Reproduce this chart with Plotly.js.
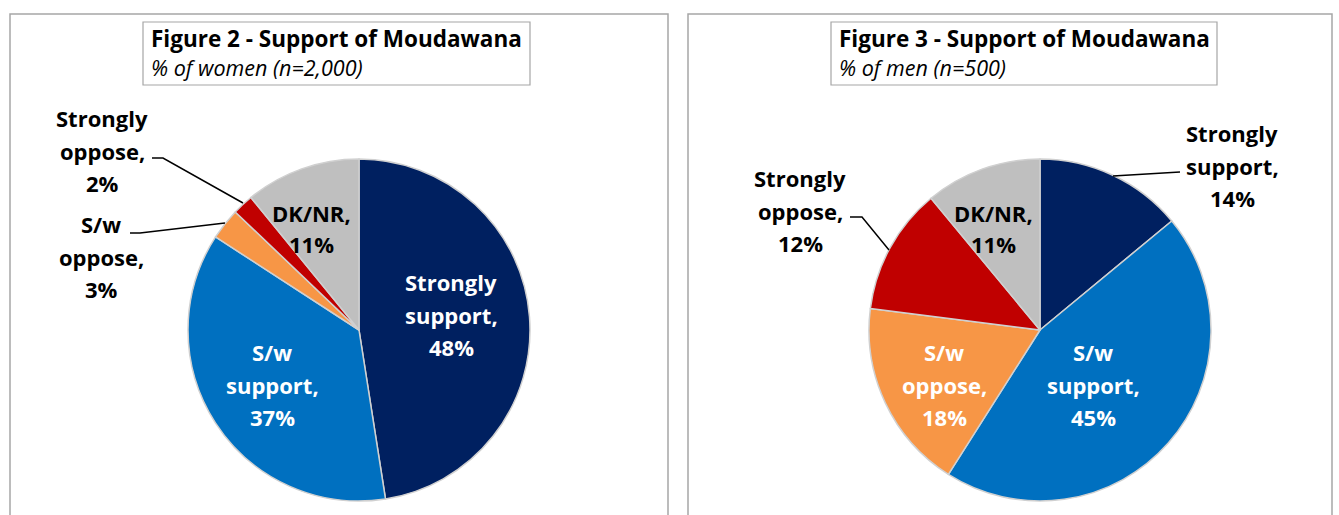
<!DOCTYPE html>
<html>
<head>
<meta charset="utf-8">
<script src="https://cdn.plot.ly/plotly-3.0.1.min.js"></script>
<style>html,body{margin:0;padding:0;background:#fff;}#chart{width:1339px;height:515px;}</style>
</head>
<body>
<div id="chart"></div>
<script>
// ---- data ----
const categories = ["Strongly support", "S/w support", "S/w oppose", "Strongly oppose", "DK/NR"];
const womenValues = [48, 37, 3, 2, 11];
const menValues = [14, 45, 18, 12, 11];
const sliceColors = ["#002060", "#0070C0", "#F79646", "#C00000", "#BFBFBF"];
const titles = ["Figure 2 - Support of Moudawana", "Figure 3 - Support of Moudawana"];
const subtitles = ["% of women (n=2,000)", "% of men (n=500)"];

// ---- layout helpers ----
const W = 1339, H = 515;
const px = x => x / W;
const py = y => 1 - y / H;
const FONT = "'Open Sans', Lato, sans-serif";

function pieTrace(values, cx, cy, r, name) {
  return {
    type: "pie",
    name: name,
    labels: categories,
    values: values,
    sort: false,
    direction: "clockwise",
    rotation: 0,
    textinfo: "none",
    textposition: "none",
    hoverinfo: "label+percent",
    marker: { colors: sliceColors, line: { color: "#D0D0D0", width: 1.5 } },
    domain: { x: [px(cx - r), px(cx + r)], y: [py(cy + r), py(cy - r)] },
    showlegend: false
  };
}

const traces = [
  pieTrace(womenValues, 359, 330, 171, "Women"),
  pieTrace(menValues, 1040, 330, 171, "Men")
];

const annotations = [];
const shapes = [];

// label lines derived from data
function labelLines(cat, val) {
  const words = cat.split(" ");
  words[words.length - 1] += ",";
  return words.concat([val + "%"]);
}
function addLabel(chart, idx, x, yTop, color) {
  const vals = chart === 0 ? womenValues : menValues;
  const lines = labelLines(categories[idx], vals[idx]);
  const step = lines.length === 2 ? 31 : 32.5;
  lines.forEach((t, i) => {
    annotations.push({
      xref: "paper", yref: "paper", x: px(x), y: py(yTop + i * step),
      xanchor: "center", yanchor: "middle", showarrow: false,
      text: "<b>" + t + "</b>",
      font: { family: FONT, size: 22, color: color }
    });
  });
}

// Figure 2 labels
addLabel(0, 0, 451, 282, "#FFFFFF");
addLabel(0, 1, 272, 352, "#FFFFFF");
addLabel(0, 2, 101, 224, "#000000");
addLabel(0, 3, 102, 118, "#000000");
addLabel(0, 4, 311, 213, "#000000");
// Figure 3 labels
addLabel(1, 0, 1232, 133, "#000000");
addLabel(1, 1, 1093, 352, "#FFFFFF");
addLabel(1, 2, 944, 352, "#FFFFFF");
addLabel(1, 3, 800, 178, "#000000");
addLabel(1, 4, 993, 213, "#000000");

// leader lines
function leader(points) {
  const d = points.map((p, i) => (i ? "L" : "M") + px(p[0]) + "," + py(p[1])).join(" ");
  shapes.push({ type: "path", xref: "paper", yref: "paper", path: d, line: { color: "#000000", width: 1.5 } });
}
leader([[152, 158], [163, 158], [243, 203]]);
leader([[130, 233], [140, 233], [225, 223]]);
leader([[850, 217], [862, 217], [889, 250]]);
leader([[1180, 172], [1113, 176]]);

// outer panel boxes
[[10, 668], [688, 1332]].forEach(b => {
  shapes.push({ type: "rect", xref: "paper", yref: "paper", x0: px(b[0]), x1: px(b[1]), y0: py(560), y1: py(14),
    line: { color: "#A6A6A6", width: 1.5 }, fillcolor: "rgba(0,0,0,0)", layer: "below" });
});
// title boxes
[[143, 530], [831, 1217]].forEach((b, i) => {
  shapes.push({ type: "rect", xref: "paper", yref: "paper", x0: px(b[0]), x1: px(b[1]), y0: py(85), y1: py(22),
    line: { color: "#A6A6A6", width: 1.2 }, fillcolor: "rgba(0,0,0,0)" });
  annotations.push({ xref: "paper", yref: "paper", x: px(b[0] + 6), y: py(38), xanchor: "left", yanchor: "middle",
    showarrow: false, text: "<b>" + titles[i] + "</b>", font: { family: FONT, size: 22.5, color: "#000" } });
  annotations.push({ xref: "paper", yref: "paper", x: px(b[0] + 6), y: py(68), xanchor: "left", yanchor: "middle",
    showarrow: false, text: "<i>" + subtitles[i] + "</i>", font: { family: FONT, size: 21.5, color: "#000" } });
});

const layout = {
  width: W, height: H,
  margin: { l: 0, r: 0, t: 0, b: 0 },
  paper_bgcolor: "#FFFFFF",
  showlegend: false,
  annotations: annotations,
  shapes: shapes
};

Plotly.newPlot("chart", traces, layout, { displayModeBar: false, staticPlot: true });
</script>
</body>
</html>
